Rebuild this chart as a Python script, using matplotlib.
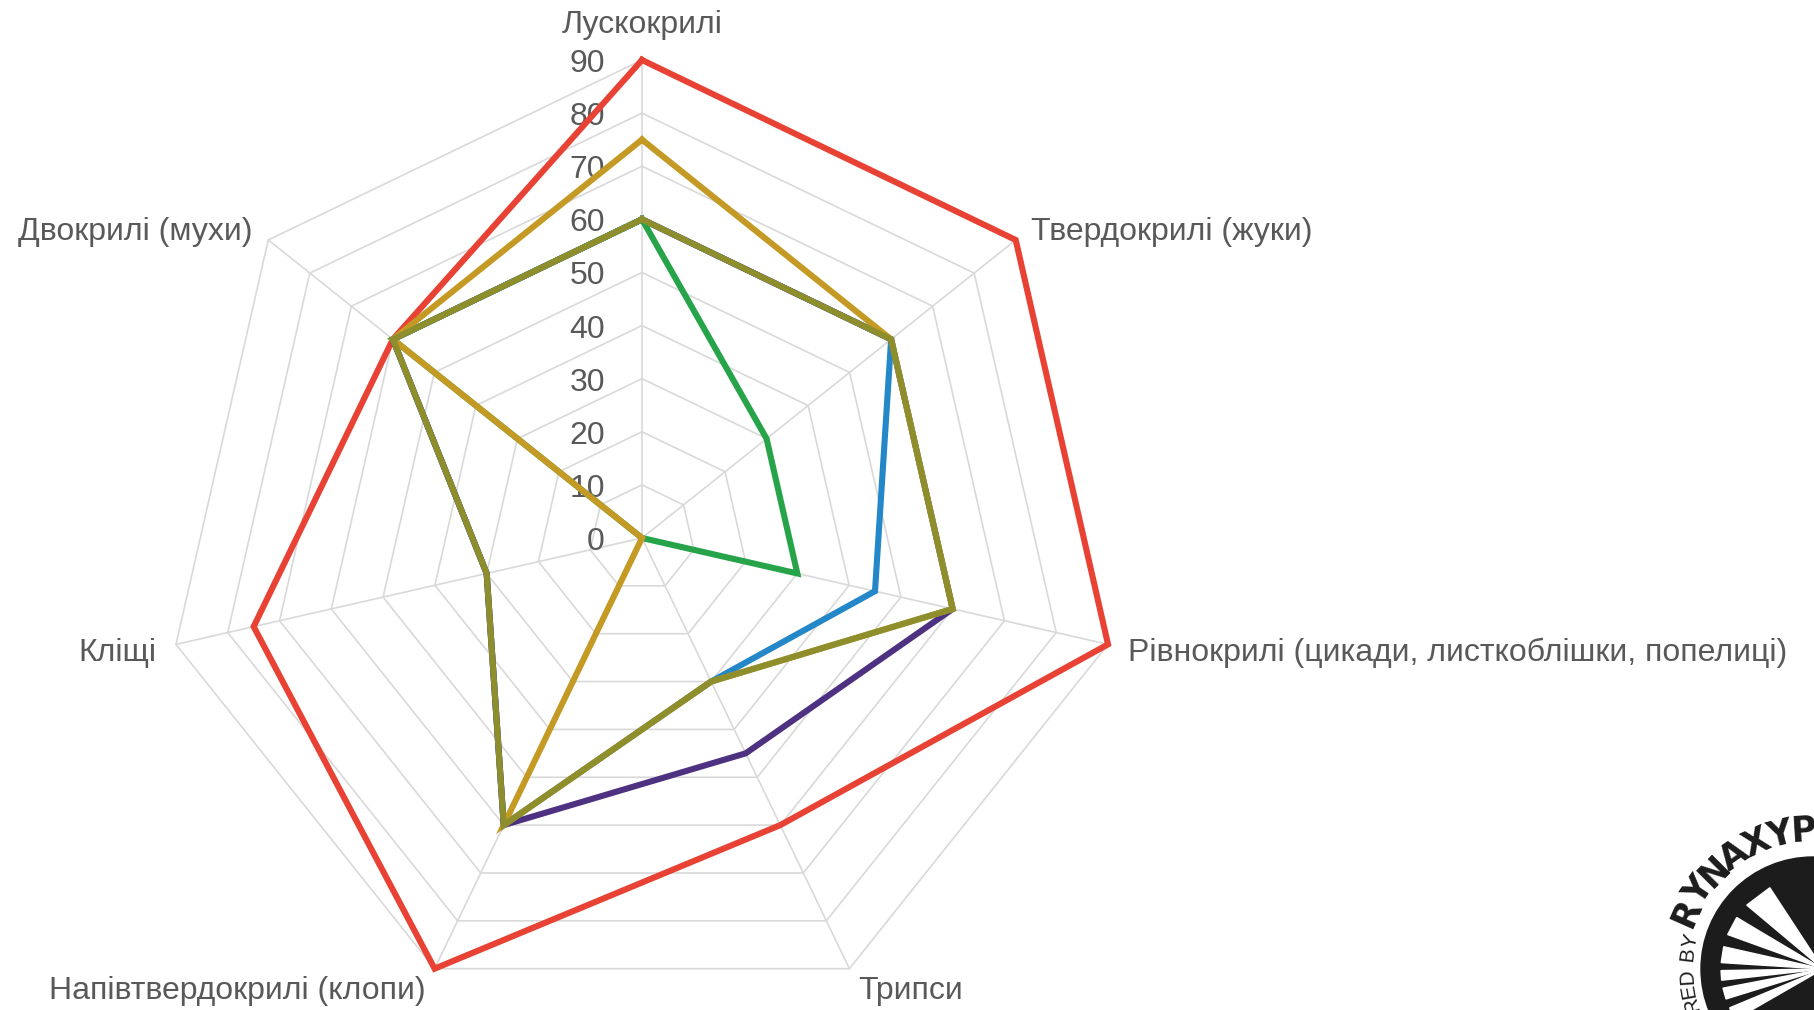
import numpy as np
import matplotlib
matplotlib.use("Agg")
import matplotlib.pyplot as plt
from matplotlib.patches import Circle, Polygon

plt.rcParams["font.family"] = ["Liberation Sans", "DejaVu Sans"]

categories = [
    "Лускокрилі",
    "Твердокрилі (жуки)",
    "Рівнокрилі (цикади, листкоблішки, попелиці)",
    "Трипси",
    "Напівтвердокрилі (клопи)",
    "Кліщі",
    "Двокрилі (мухи)",
]
ticks = [0, 10, 20, 30, 40, 50, 60, 70, 80, 90]

red_values = [90, 90, 90, 60, 90, 75, 60]
blue_values = [60, 60, 45, 30, 60, 30, 60]
purple_values = [60, 60, 60, 45, 60, 30, 60]
green_values = [60, 30, 30, 0, 0, 0, 60]
gold_values = [75, 60, 60, 30, 60, 0, 60]
olive_values = [60, 60, 60, 30, 60, 30, 60]

series = [
    (red_values, "#E84235"),
    (blue_values, "#2387C8"),
    (purple_values, "#4E3281"),
    (green_values, "#27A44A"),
    (gold_values, "#C49A25"),
    (olive_values, "#8E8E2D"),
]

W, H = 1814, 1010
CX, CY, RAD = 642, 472, 478  # centre (px from left / bottom) and radius of the 90 ring
TEXT = "#595959"
GRID = "#d9d9d9"
FS = 23

fig = plt.figure(figsize=(W / 100, H / 100), dpi=100)
ax = fig.add_axes([0, 0, 1, 1])
scale = RAD / ticks[-1]
ax.set_xlim(-CX / scale, (W - CX) / scale)
ax.set_ylim(-CY / scale, (H - CY) / scale)
ax.axis("off")

n = len(categories)
angles = np.arange(n) * 2 * np.pi / n


def polar_xy(values):
    v = np.append(values, values[0])
    a = np.append(angles, angles[0])
    return v * np.sin(a), v * np.cos(a)


# polygon grid and spokes
for t in ticks[1:]:
    ax.plot(*polar_xy([t] * n), color=GRID, lw=1.2, zorder=1)
top = ticks[-1]
for a in angles:
    ax.plot([0, top * np.sin(a)], [0, top * np.cos(a)], color=GRID, lw=1.2, zorder=1)

for t in ticks:
    ax.annotate(str(t), (0, t), xytext=(-37, -4), textcoords="offset pixels",
                ha="right", va="center", fontsize=FS, color=TEXT, zorder=2)

for label, a in zip(categories, angles):
    sx, sy = np.sin(a), np.cos(a)
    if abs(sx) < 0.1:
        ha, off = "center", (0, 35)
    else:
        ha = "left" if sx > 0 else "right"
        off = (20 * sx, 20 * sy - 4)
    ax.annotate(label, (top * sx, top * sy), xytext=off, textcoords="offset pixels",
                ha=ha, va="center", fontsize=FS, color=TEXT)

for values, color in series:
    ax.plot(*polar_xy(values), color=color, lw=4.4, zorder=3, solid_joinstyle="miter")

# watermark logo, partly cut off at the bottom right corner
lg = fig.add_axes([0, 0, 1, 1])
lg.set_xlim(0, W)
lg.set_ylim(H, 0)
lg.axis("off")
lx, ly = 1813, 969
ink = "#1c1c1c"
lg.add_patch(Circle((lx, ly), 112, color=ink, zorder=1))
for a0, a1 in [(118, 136), (146, 158), (166, 176), (181, 187), (192, 199), (205, 213)]:
    p0 = np.deg2rad(a0)
    p1 = np.deg2rad(a1)
    pts = [(lx + 10, ly),
           (lx + 92 * np.cos(p0), ly - 92 * np.sin(p0)),
           (lx + 92 * np.cos(p1), ly - 92 * np.sin(p1))]
    lg.add_patch(Polygon(pts, closed=True, color="white", zorder=2))


def arc_text(text, start, step, r, **kw):
    phi = start
    for ch in text:
        p = np.deg2rad(phi)
        lg.text(lx + r * np.cos(p), ly - r * np.sin(p), ch, rotation=phi - 90,
                rotation_mode="anchor", ha="center", va="center", color=ink, **kw)
        phi -= step if ch != " " else step * 0.6


arc_text("RYNAXYP", 156, 10.4, 138, fontsize=25, fontweight="heavy",
         family="DejaVu Sans")
arc_text("POWERED BY", 222, 6.4, 126, fontsize=15)

fig.savefig("out.png", dpi=100)
